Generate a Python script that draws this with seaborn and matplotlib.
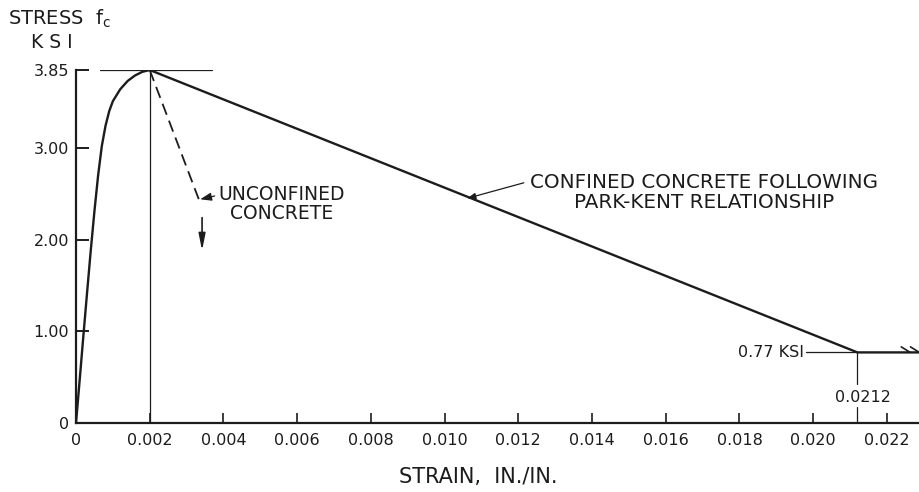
import matplotlib
matplotlib.use("Agg")
import matplotlib.pyplot as plt
import seaborn as sns
import pandas as pd

# Rising branch of the stress-strain curve (strain in in./in., stress in ksi)
rise_strain = [0.0, 0.0001, 0.0002, 0.0003, 0.0004, 0.0005, 0.0006, 0.0007,
               0.0008, 0.0009, 0.0010, 0.0012, 0.0014, 0.0016, 0.0018, 0.002]
rise_stress = [0.0, 0.47, 0.95, 1.42, 1.88, 2.31, 2.70, 3.02,
               3.24, 3.40, 3.51, 3.64, 3.73, 3.79, 3.83, 3.85]

# Confined concrete (Park-Kent) descending branch and residual plateau
conf_strain = [0.002, 0.0212, 0.0229]
conf_stress = [3.85, 0.77, 0.77]

# Unconfined concrete descending branch
unconf_strain = [0.002, 0.00335]
unconf_stress = [3.85, 2.42]

peak_strain, peak_stress = 0.002, 3.85
resid_strain, resid_stress = 0.0212, 0.77

x_ticks = [0, 0.002, 0.004, 0.006, 0.008, 0.010, 0.012, 0.014, 0.016, 0.018, 0.020, 0.022]
x_labels = ["0", "0.002", "0.004", "0.006", "0.008", "0.010", "0.012", "0.014",
            "0.016", "0.018", "0.020", "0.022"]
y_ticks = [0, 1.00, 2.00, 3.00, 3.85]
y_labels = ["0", "1.00", "2.00", "3.00", "3.85"]

sns.set_style("ticks")
plt.rcParams["font.family"] = ["DejaVu Sans"]
INK = "#1c1c1c"

fig = plt.figure(figsize=(9.19, 4.92), dpi=100)
ax = fig.add_axes([76 / 919, 69 / 492, 843 / 919, 353 / 492])

rise = pd.DataFrame({"strain": rise_strain, "stress": rise_stress})
conf = pd.DataFrame({"strain": conf_strain, "stress": conf_stress})
unconf = pd.DataFrame({"strain": unconf_strain, "stress": unconf_stress})

sns.lineplot(data=rise, x="strain", y="stress", ax=ax, color=INK, lw=1.7,
             sort=False, estimator=None)
sns.lineplot(data=conf, x="strain", y="stress", ax=ax, color=INK, lw=1.7,
             sort=False, estimator=None)
sns.lineplot(data=unconf, x="strain", y="stress", ax=ax, color=INK, lw=1.3,
             sort=False, estimator=None, linestyle=(0, (6.5, 3.5)))

ax.set_xlim(0, 0.02287)
ax.set_ylim(0, 3.85)

# Reference lines at the peak
ax.plot([peak_strain, peak_strain], [0, peak_stress], color=INK, lw=0.9)
ax.plot([0.00065, 0.0037], [peak_stress, peak_stress], color=INK, lw=0.9)

# Leader and dimension lines at the residual point
ax.plot([0.0198, resid_strain], [resid_stress, resid_stress], color=INK, lw=0.9)
ax.plot([resid_strain, resid_strain], [0, 0.17], color=INK, lw=0.9)
ax.plot([resid_strain, resid_strain], [0.42, resid_stress], color=INK, lw=0.9)
ax.text(resid_strain + 0.00015, 0.28, "0.0212", ha="center", va="center",
        fontsize=11.5, color=INK)
ax.text(0.01975, resid_stress, "0.77 KSI", ha="right", va="center",
        fontsize=11.5, color=INK)

# Barbs marking the plateau continuing
xmax = conf_strain[-1]
for xe in (xmax - 0.00027, xmax - 0.00002):
    ax.plot([xe - 0.00024, xe], [resid_stress + 0.06, resid_stress], color=INK,
            lw=1.2, clip_on=False)

# Downward arrow after the unconfined branch
ax.annotate("", xy=(0.00342, 1.85), xytext=(0.00342, 2.27),
            arrowprops=dict(arrowstyle="-|>,head_length=1.0,head_width=0.2",
                            color=INK, lw=1.2))

ax.annotate("UNCONFINED\nCONCRETE", xy=(0.00337, 2.44), xytext=(0.00385, 2.60),
            ha="left", va="top", fontsize=13.5, color=INK, linespacing=1.0,
            multialignment="center",
            arrowprops=dict(arrowstyle="-|>,head_length=0.5,head_width=0.18",
                            color=INK, lw=0.9, shrinkA=0, shrinkB=0,
                            relpos=(0.0, 0.72)))

ax.text(0.01704, 2.51, "CONFINED CONCRETE FOLLOWING\nPARK-KENT RELATIONSHIP",
        ha="center", va="center", fontsize=14.3, color=INK, linespacing=1.05,
        multialignment="center")
ax.annotate("", xy=(0.01061, 2.45), xytext=(0.01215, 2.62),
            arrowprops=dict(arrowstyle="-|>,head_length=0.5,head_width=0.18",
                            color=INK, lw=0.9, shrinkA=0, shrinkB=0))

# Axes styling
for side in ("top", "right"):
    ax.spines[side].set_visible(False)
for side in ("left", "bottom"):
    ax.spines[side].set_linewidth(1.6)
    ax.spines[side].set_color(INK)

ax.set_xticks(x_ticks)
ax.set_xticklabels(x_labels)
ax.set_yticks(y_ticks)
ax.set_yticklabels(y_labels)
ax.tick_params(axis="x", direction="in", length=7, width=1.2, pad=7,
               labelsize=11.5, colors=INK)
ax.tick_params(axis="y", direction="in", length=9, width=1.4, pad=5,
               labelsize=11.5, colors=INK)
ax.set_xlabel("")
ax.set_ylabel("")

fig.text(478 / 919, 1 - 477 / 492, "STRAIN,  IN./IN.", ha="center", va="center",
         fontsize=15, color=INK)
fig.text(8 / 919, 1 - 19 / 492, r"STRESS  $\mathregular{f_c}$", ha="left",
         va="center", fontsize=14, color=INK)
fig.text(52 / 919, 1 - 43 / 492, "K S I", ha="center", va="center",
         fontsize=13.5, color=INK)

fig.savefig("out.png", dpi=100, facecolor="white")
